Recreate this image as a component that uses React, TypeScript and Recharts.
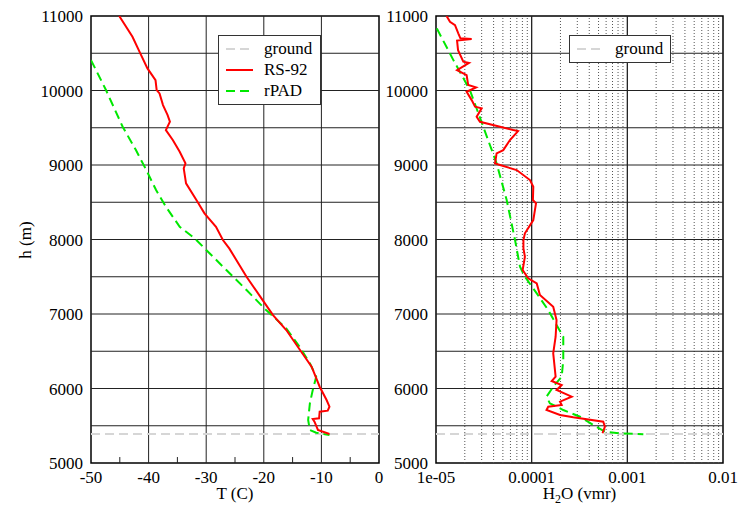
import React from 'react';
import {
  ComposedChart,
  Scatter,
  XAxis,
  YAxis,
  ReferenceLine,
  ReferenceArea,
  Legend,
} from 'recharts';

const FONT = 'Liberation Serif';

// heights (m) shared by both panels
const hTicks = [5000, 6000, 7000, 8000, 9000, 10000, 11000];
const hGrid = [5500, 6000, 6500, 7000, 7500, 8000, 8500, 9000, 9500, 10000, 10500];
const groundH = 5390;

// temperature panel
const tempTicks = [-50, -40, -30, -20, -10, 0];
const tempGrid = [-40, -30, -20, -10];
const tempMinor = [-45, -35, -25, -15, -5];

const rs92TempH = [
  11000, 10721, 10475, 10297, 10140, 10006, 9961, 9804, 9670, 9580, 9469, 9335, 9178, 9022,
  8955, 8754, 8530, 8351, 8171, 7993, 7881, 7500, 7187, 6986, 6785, 6494, 6292, 6024, 5845,
  5756, 5702, 5688, 5600, 5590, 5554, 5443, 5389,
];
const rs92Temp = [
  -45.1, -42.8, -41.3, -40.2, -38.8, -38.6, -38.1, -37.5, -36.7, -36.3, -37.0, -35.8, -34.6,
  -33.6, -33.9, -33.5, -31.7, -30.3, -28.3, -27.1, -26.0, -23.0, -20.2, -18.4, -16.1, -13.5,
  -11.7, -10.3, -9.1, -8.6, -8.9, -10.3, -10.4, -11.5, -11.2, -10.6, -8.6,
];

const rpadTempH = [
  10408, 10006, 9513, 9200, 8932, 8664, 8440, 8171, 8015, 7860, 7590, 7322, 7053, 6808, 6561,
  6338, 6158, 5980, 5801, 5577, 5443, 5407, 5376,
];
const rpadTemp = [
  -50.0, -47.4, -44.5, -42.2, -40.4, -38.7, -37.0, -34.6, -32.0, -30.0, -26.5, -23.0, -19.6,
  -16.1, -13.8, -12.0, -10.9, -11.5, -12.0, -12.3, -12.0, -10.9, -8.6,
];

// water vapour panel
const h2oTicks = [1e-5, 1e-4, 1e-3, 1e-2];
const h2oTickLabels = ['1e-05', '0.0001', '0.001', '0.01'];
const h2oGrid = [1e-4, 1e-3];
const h2oMinor = [
  2e-5, 3e-5, 4e-5, 5e-5, 6e-5, 7e-5, 8e-5, 9e-5,
  2e-4, 3e-4, 4e-4, 5e-4, 6e-4, 7e-4, 8e-4, 9e-4,
  2e-3, 3e-3, 4e-3, 5e-3, 6e-3, 7e-3, 8e-3, 9e-3,
];

const rs92H2oH = [
  11000, 10922, 10878, 10767, 10700, 10690, 10670, 10542, 10386, 10370, 10274, 10207, 10073,
  10042, 9983, 9871, 9782, 9760, 9648, 9580, 9513, 9469, 9455, 9335, 9200, 9156, 9022, 9000,
  8932, 8798, 8708, 8530, 8485, 8261, 8083, 7993, 7881, 7769, 7590, 7479, 7411, 7255, 7098,
  6919, 6695, 6472, 6158, 6100, 6047, 5980, 5890, 5823, 5778, 5756, 5711, 5644, 5613, 5554,
  5487, 5399,
];
const rs92H2o = [
  1.29e-5, 1.4e-5, 1.58e-5, 1.71e-5, 1.8e-5, 2.36e-5, 1.66e-5, 1.7e-5, 1.93e-5, 2.21e-5,
  1.66e-5, 2.09e-5, 2.17e-5, 2.62e-5, 2.09e-5, 2.36e-5, 2.56e-5, 3.0e-5, 2.66e-5, 2.88e-5,
  4.67e-5, 6.43e-5, 7.2e-5, 5.93e-5, 5.05e-5, 4.3e-5, 4.14e-5, 4.67e-5, 6.97e-5, 9.6e-5,
  1.04e-4, 1.03e-4, 1.11e-4, 1.04e-4, 8.5e-5, 8.2e-5, 8.2e-5, 8.5e-5, 8.05e-5, 9.2e-5,
  1.13e-4, 1.22e-4, 1.68e-4, 1.82e-4, 1.78e-4, 1.68e-4, 1.78e-4, 1.62e-4, 2.06e-4, 1.82e-4,
  2.62e-4, 1.98e-4, 2.06e-4, 1.49e-4, 1.43e-4, 1.98e-4, 2.72e-4, 5.6e-4, 5.83e-4, 5.5e-4,
];

const rpadH2oH = [
  10833, 10408, 10006, 9513, 9022, 8530, 7993, 7634, 7500, 7277, 7053, 6852, 6695, 6382, 6158,
  6024, 5890, 5801, 5711, 5621, 5510, 5420, 5399, 5385,
];
const rpadH2o = [
  1.02e-5, 1.52e-5, 2.26e-5, 3.12e-5, 4.3e-5, 5.48e-5, 6.7e-5, 7.55e-5, 8.5e-5, 1.13e-4,
  1.49e-4, 1.82e-4, 2.14e-4, 2.14e-4, 2.06e-4, 1.68e-4, 1.43e-4, 1.55e-4, 2.14e-4, 3.2e-4,
  4.41e-4, 5.83e-4, 8.4e-4, 1.47e-3,
];

const zip = (xs: number[], hs: number[]) => xs.map((x, i) => ({ x, h: hs[i] }));

const RED = '#ff0000';
const GREEN = '#00e800';
const GROUND = '#d6d6d6';
const GRID = '#222';

const tickStyle = { fill: '#000', fontSize: 17, fontFamily: FONT };
const noDot = () => <g />;

type Entry = { name: string; color: string; dash?: string };

const LegendBox = ({ entries, width }: { entries: Entry[]; width: number }) => (
  <div
    style={{
      width,
      boxSizing: 'border-box',
      border: '1.5px solid #333',
      background: '#fff',
      padding: '2px 0 3px 0',
      fontFamily: FONT,
      fontSize: 17,
      color: '#000',
      lineHeight: '21px',
    }}
  >
    {entries.map((e) => (
      <div key={e.name} style={{ display: 'flex', alignItems: 'center', height: 21 }}>
        <svg width={40} height={10} style={{ marginLeft: 5 }}>
          <line x1={2} x2={29} y1={5} y2={5} stroke={e.color} strokeWidth={2} strokeDasharray={e.dash} />
        </svg>
        <span>{e.name}</span>
      </div>
    ))}
  </div>
);

const leftEntries: Entry[] = [
  { name: 'ground', color: GROUND, dash: '9 5' },
  { name: 'RS-92', color: RED },
  { name: 'rPAD', color: GREEN, dash: '9 5' },
];
const rightEntries: Entry[] = [{ name: 'ground', color: GROUND, dash: '9 5' }];

const titleStyle = { fontFamily: FONT, fontSize: 17, fill: '#000' };

export default function App() {
  return (
    <div
      style={{
        position: 'absolute',
        left: 0,
        top: 0,
        width: 745,
        height: 506,
        background: '#fff',
        fontFamily: FONT,
      }}
    >
      <div style={{ position: 'absolute', left: 0, top: 0 }}>
        <ComposedChart width={384} height={506} margin={{ top: 16, right: 5, bottom: 0, left: 0 }}>
          <XAxis
            type="number"
            dataKey="x"
            domain={[-50, 0]}
            ticks={tempTicks}
            interval={0}
            allowDataOverflow
            height={43}
            tickLine={false}
            axisLine={false}
            tick={tickStyle}
            label={() => (
              <text x={235} y={499} textAnchor="middle" style={titleStyle}>
                T (C)
              </text>
            )}
          />
          <YAxis
            type="number"
            dataKey="h"
            domain={[5000, 11000]}
            ticks={hTicks}
            interval={0}
            allowDataOverflow
            width={91}
            tickLine={false}
            axisLine={false}
            tick={tickStyle}
            label={() => (
              <text x={31} y={240} transform="rotate(-90, 31, 240)" textAnchor="middle" style={titleStyle}>
                h (m)
              </text>
            )}
          />
          {hGrid.map((h) => (
            <ReferenceLine key={'h' + h} y={h} stroke={GRID} strokeWidth={1} />
          ))}
          {tempGrid.map((t) => (
            <ReferenceLine key={'t' + t} x={t} stroke={GRID} strokeWidth={1} />
          ))}
          {tempMinor.map((t) => (
            <ReferenceLine
              key={'m' + t}
              segment={[
                { x: t, y: 5000 },
                { x: t, y: 5080 },
              ]}
              stroke={GRID}
              strokeWidth={1}
            />
          ))}
          <ReferenceLine y={groundH} stroke={GROUND} strokeWidth={2} strokeDasharray="9 5" />
          <Scatter
            name="rPAD"
            data={zip(rpadTemp, rpadTempH)}
            line={{ stroke: GREEN, strokeWidth: 2, strokeDasharray: '9 5' }}
            shape={noDot}
            isAnimationActive={false}
          />
          <Scatter
            name="RS-92"
            data={zip(rs92Temp, rs92TempH)}
            line={{ stroke: RED, strokeWidth: 2 }}
            shape={noDot}
            isAnimationActive={false}
          />
          <ReferenceArea x1={-50} x2={0} y1={5000} y2={11000} fill="none" stroke="#000" strokeWidth={1.5} />
          <Legend
            layout="vertical"
            align="center"
            verticalAlign="middle"
            wrapperStyle={{ left: 218, top: 35 }}
            content={() => <LegendBox entries={leftEntries} width={103} />}
          />
        </ComposedChart>
      </div>
      <div style={{ position: 'absolute', left: 382, top: 0 }}>
        <ComposedChart width={363} height={506} margin={{ top: 16, right: 22, bottom: 0, left: 0 }}>
          <XAxis
            type="number"
            dataKey="x"
            scale="log"
            domain={[1e-5, 1e-2]}
            ticks={h2oTicks}
            interval={0}
            allowDataOverflow
            height={43}
            tickLine={false}
            axisLine={false}
            tick={tickStyle}
            tickFormatter={(v: number) => h2oTickLabels[h2oTicks.indexOf(v)] ?? String(v)}
            label={() => (
              <text x={197.5} y={499} textAnchor="middle" style={titleStyle}>
                H<tspan fontSize={12} dy={4}>2</tspan>
                <tspan dy={-4}>O (vmr)</tspan>
              </text>
            )}
          />
          <YAxis
            type="number"
            dataKey="h"
            domain={[5000, 11000]}
            ticks={hTicks}
            interval={0}
            allowDataOverflow
            width={54}
            tickLine={false}
            axisLine={false}
            tick={tickStyle}
          />
          {h2oMinor.map((v) => (
            <ReferenceLine key={'n' + v} x={v} stroke="#555" strokeWidth={1} strokeDasharray="1 2" />
          ))}
          {hGrid.map((h) => (
            <ReferenceLine key={'h' + h} y={h} stroke={GRID} strokeWidth={1} />
          ))}
          {h2oGrid.map((v) => (
            <ReferenceLine key={'g' + v} x={v} stroke={GRID} strokeWidth={1.3} />
          ))}
          <ReferenceLine y={groundH} stroke={GROUND} strokeWidth={2} strokeDasharray="9 5" />
          <Scatter
            name="rPAD"
            data={zip(rpadH2o, rpadH2oH)}
            line={{ stroke: GREEN, strokeWidth: 2, strokeDasharray: '9 5' }}
            shape={noDot}
            isAnimationActive={false}
          />
          <Scatter
            name="RS-92"
            data={zip(rs92H2o, rs92H2oH)}
            line={{ stroke: RED, strokeWidth: 2 }}
            shape={noDot}
            isAnimationActive={false}
          />
          <ReferenceArea x1={1e-5} x2={1e-2} y1={5000} y2={11000} fill="none" stroke="#000" strokeWidth={1.5} />
          <Legend
            layout="vertical"
            align="center"
            verticalAlign="middle"
            wrapperStyle={{ left: 187, top: 35 }}
            content={() => <LegendBox entries={rightEntries} width={102} />}
          />
        </ComposedChart>
      </div>
    </div>
  );
}
